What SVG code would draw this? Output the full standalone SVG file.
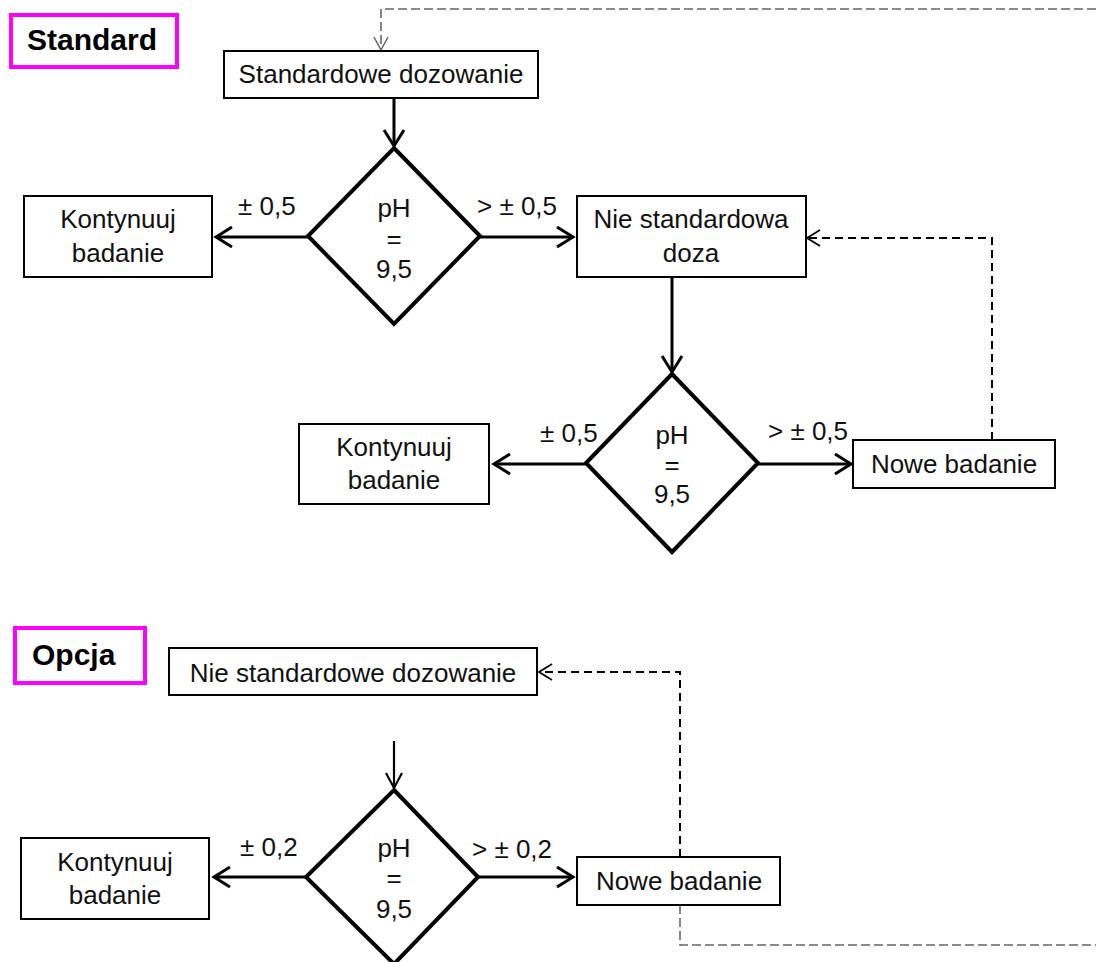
<svg xmlns="http://www.w3.org/2000/svg" width="1096" height="962" viewBox="0 0 1096 962">
<defs>
<style>
.box{fill:#fff;stroke:#000;stroke-width:2}
.dia{fill:#fff;stroke:#000;stroke-width:4;stroke-linejoin:miter}
.lbl{fill:#fff;stroke:#ff00ff;stroke-width:4}
.t{font-family:"Liberation Sans",Arial,sans-serif;font-size:26px;fill:#111;text-anchor:middle}
.ts{font-family:"Liberation Sans",Arial,sans-serif;font-size:26px;fill:#111}
.tb{font-family:"Liberation Sans",Arial,sans-serif;font-size:30px;font-weight:bold;fill:#000}
.arr{fill:none;stroke:#000;stroke-width:3;marker-end:url(#ah)}
.arr2{fill:none;stroke:#000;stroke-width:2.2;marker-end:url(#ah2)}
.dash{fill:none;stroke:#000;stroke-width:2;stroke-dasharray:8 5;marker-end:url(#ahd)}
.gdash{fill:none;stroke:#666;stroke-width:1.6;stroke-dasharray:9 4}
</style>
<marker id="ah" markerUnits="userSpaceOnUse" markerWidth="24" markerHeight="24" viewBox="-18 -12 20 24" refX="0" refY="0" orient="auto">
<path d="M-16,-10 L0,0 L-16,10" fill="none" stroke="#000" stroke-width="3"/>
</marker>
<marker id="ah2" markerUnits="userSpaceOnUse" markerWidth="24" markerHeight="24" viewBox="-18 -12 20 24" refX="0" refY="0" orient="auto">
<path d="M-15,-8 L0,0 L-15,8" fill="none" stroke="#000" stroke-width="2.2"/>
</marker>
<marker id="ahd" markerUnits="userSpaceOnUse" markerWidth="24" markerHeight="24" viewBox="-18 -12 20 24" refX="0" refY="0" orient="auto">
<path d="M-13,-8 L0,0 L-13,8" fill="none" stroke="#000" stroke-width="1.8"/>
</marker>
<marker id="ahg" markerUnits="userSpaceOnUse" markerWidth="24" markerHeight="24" viewBox="-18 -12 20 24" refX="0" refY="0" orient="auto">
<path d="M-13,-7 L0,0 L-13,7" fill="none" stroke="#666" stroke-width="1.5"/>
</marker>
</defs>
<rect width="1096" height="962" fill="#fff"/>

<g id="connectors">
<path class="arr" d="M394,98 V146"/>
<path class="arr" d="M308,237 H216"/>
<path class="arr" d="M480,237 H573"/>
<path class="arr" d="M672,277 V372"/>
<path class="arr" d="M586,464 H494"/>
<path class="arr" d="M758,464 H851"/>
<path class="dash" d="M992,440 V238 H807"/>
<path class="gdash" d="M1096,9 H381 V50" marker-end="url(#ahg)"/>
<path class="arr2" d="M394,741 V788"/>
<path class="arr" d="M306,877 H214"/>
<path class="arr" d="M478,877 H573"/>
<path class="dash" d="M680,857 V672 H539"/>
<path class="gdash" d="M680,905 V945 H1096"/>
</g>

<g id="edge-labels">
<text class="ts" x="238" y="215">± 0,5</text>
<text class="ts" x="477" y="215">&gt; ± 0,5</text>
<text class="ts" x="540" y="442">± 0,5</text>
<text class="ts" x="768" y="440">&gt; ± 0,5</text>
<text class="ts" x="240" y="856">± 0,2</text>
<text class="ts" x="472" y="858">&gt; ± 0,2</text>
</g>

<g id="label-standard">
<rect class="lbl" x="11" y="15" width="166" height="52"/>
<text class="tb" x="27" y="50">Standard</text>
</g>
<g id="standardowe-dozowanie">
<rect class="box" x="224" y="51" width="314" height="47"/>
<text class="t" x="381" y="83">Standardowe dozowanie</text>
</g>
<g id="decision-1">
<polygon class="dia" points="394,148 480,236 394,324 308,236"/>
<text class="t" x="394" y="217">pH</text>
<text class="t" x="394" y="248">=</text>
<text class="t" x="394" y="278">9,5</text>
</g>
<g id="kontynuuj-1">
<rect class="box" x="24" y="196" width="188" height="81"/>
<text class="t" x="118" y="228">Kontynuuj</text>
<text class="t" x="118" y="262">badanie</text>
</g>
<g id="nie-standardowa-doza">
<rect class="box" x="577" y="196" width="229" height="81"/>
<text class="t" x="691" y="228">Nie standardowa</text>
<text class="t" x="691" y="262">doza</text>
</g>
<g id="decision-2">
<polygon class="dia" points="672,374 758,463 672,552 586,463"/>
<text class="t" x="672" y="444">pH</text>
<text class="t" x="672" y="474">=</text>
<text class="t" x="672" y="503">9,5</text>
</g>
<g id="kontynuuj-2">
<rect class="box" x="299" y="424" width="190" height="80"/>
<text class="t" x="394" y="456">Kontynuuj</text>
<text class="t" x="394" y="489">badanie</text>
</g>
<g id="nowe-badanie-1">
<rect class="box" x="853" y="440" width="202" height="48"/>
<text class="t" x="954" y="473">Nowe badanie</text>
</g>

<g id="label-opcja">
<rect class="lbl" x="15" y="628" width="130" height="55"/>
<text class="tb" x="32" y="665">Opcja</text>
</g>
<g id="nie-standardowe-dozowanie">
<rect class="box" x="169" y="648" width="368" height="47"/>
<text class="t" x="353" y="682">Nie standardowe dozowanie</text>
</g>
<g id="decision-3">
<polygon class="dia" points="394,790 478,877 394,964 306,877"/>
<text class="t" x="394" y="857">pH</text>
<text class="t" x="394" y="887">=</text>
<text class="t" x="394" y="918">9,5</text>
</g>
<g id="kontynuuj-3">
<rect class="box" x="21" y="838" width="188" height="81"/>
<text class="t" x="115" y="871">Kontynuuj</text>
<text class="t" x="115" y="904">badanie</text>
</g>
<g id="nowe-badanie-2">
<rect class="box" x="577" y="857" width="203" height="48"/>
<text class="t" x="679" y="890">Nowe badanie</text>
</g>
</svg>
